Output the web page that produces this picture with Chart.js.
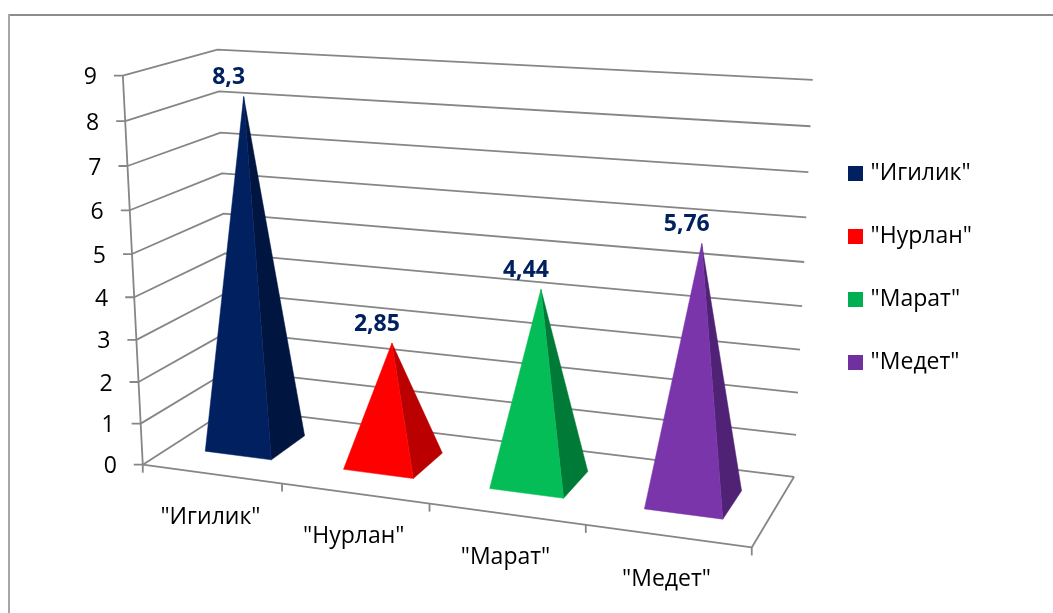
<!DOCTYPE html>
<html lang="ru">
<head>
<meta charset="utf-8">
<title>Пирамиды</title>
<style>
  html, body { margin: 0; padding: 0; background: #fff; overflow: hidden; }
  canvas { display: block; }
</style>
<script src="https://cdn.jsdelivr.net/npm/chart.js@4/dist/chart.umd.js"></script>
</head>
<body>
<canvas id="chart" width="1053" height="613"></canvas>
<script>
const categories = ['"Игилик"', '"Нурлан"', '"Марат"', '"Медет"'];
const values = [8.3, 2.85, 4.44, 5.76];
const frontColors = ['#002060', '#FF0000', '#05BD57', '#7A35AA'];
const sideColors = ['#001540', '#BA0000', '#007A37', '#4F2275'];
const legendColors = ['#002060', '#FF0000', '#00B050', '#7030A0'];
const valueMax = 9;

const FONT = '"Open Sans", "Noto Sans", sans-serif';
const GRID = '#868686';
const GRID_WIDTH = 1.8;
const LABEL_NAVY = '#002060';
const DEPTH_NEAR = 0.30, DEPTH_FAR = 0.71;

// Control points of the 3D box: [across, height, depth, screen x, screen y].
const boxControls = [
  [0, 0, 0, 142, 465], [1, 0, 0, 752, 547], [0, 1, 0, 123, 75.5],
  [0, 0, 1, 232, 408], [1, 0, 1, 794, 477], [0, 1, 1, 217, 50], [1, 1, 1, 813, 80],
  [0, 5 / 9, 0, 133, 254], [0, 5 / 9, 1, 223, 213], [1, 5 / 9, 1, 804, 262],
  [0.25, 0, 0, 282, 484], [0.5, 0, 0, 429, 503.5]
];

// Least-squares fit of a projective map from box coordinates to the screen.
function fitProjection(controls) {
  const rows = [], rhs = [];
  for (const [x, t, z, sx, sy] of controls) {
    const X = sx / 1000, Y = sy / 1000;
    rows.push([1, x, t, z, 0, 0, 0, 0, -X * x, -X * t, -X * z]); rhs.push(X);
    rows.push([0, 0, 0, 0, 1, x, t, z, -Y * x, -Y * t, -Y * z]); rhs.push(Y);
  }
  const n = 11;
  const m = Array.from({ length: n }, () => new Array(n + 1).fill(0));
  rows.forEach((r, k) => {
    for (let i = 0; i < n; i++) {
      for (let j = 0; j < n; j++) m[i][j] += r[i] * r[j];
      m[i][n] += r[i] * rhs[k];
    }
  });
  for (let c = 0; c < n; c++) {
    let piv = c;
    for (let r = c + 1; r < n; r++) if (Math.abs(m[r][c]) > Math.abs(m[piv][c])) piv = r;
    [m[c], m[piv]] = [m[piv], m[c]];
    for (let r = 0; r < n; r++) {
      if (r === c) continue;
      const f = m[r][c] / m[c][c];
      for (let j = c; j <= n; j++) m[r][j] -= f * m[c][j];
    }
  }
  const p = m.map((row, i) => row[n] / row[i]);
  return (x, t, z) => {
    const w = 1 + p[8] * x + p[9] * t + p[10] * z;
    return [
      1000 * (p[0] + p[1] * x + p[2] * t + p[3] * z) / w,
      1000 * (p[4] + p[5] * x + p[6] * t + p[7] * z) / w
    ];
  };
}
const project = fitProjection(boxControls);

function polyline(ctx, pts, color, width) {
  ctx.beginPath();
  pts.forEach((p, i) => (i ? ctx.lineTo(p[0], p[1]) : ctx.moveTo(p[0], p[1])));
  ctx.strokeStyle = color;
  ctx.lineWidth = width;
  ctx.stroke();
}

function face(ctx, pts, color) {
  ctx.beginPath();
  pts.forEach((p, i) => (i ? ctx.lineTo(p[0], p[1]) : ctx.moveTo(p[0], p[1])));
  ctx.closePath();
  ctx.fillStyle = color;
  ctx.fill();
  ctx.strokeStyle = color;
  ctx.lineWidth = 0.5;
  ctx.stroke();
}

// Draws the outer frame, the box walls and the axis text from the chart's scales.
const boxPlugin = {
  id: 'box',
  beforeDatasetsDraw(chart) {
    const { ctx, scales: { x: xs, y: ys } } = chart;
    const h = v => (ys.bottom - ys.getPixelForValue(v)) / ys.height;
    ctx.save();

    ctx.fillStyle = '#8c8c8c';
    ctx.fillRect(8, 14, 1045, 2);
    ctx.fillStyle = '#a6a6a6';
    ctx.fillRect(8, 14, 2, 599);

    ctx.lineJoin = 'round';
    ys.ticks.forEach(tick => {
      const t = h(tick.value);
      const a = project(0, t, 0), b = project(0, t, 1), c = project(1, t, 1);
      polyline(ctx, [[a[0] - 9, a[1]], a, b, c], GRID, GRID_WIDTH);
      ctx.fillStyle = '#000';
      ctx.font = '23px ' + FONT;
      ctx.textAlign = 'right';
      ctx.textBaseline = 'middle';
      ctx.fillText(String(tick.value), a[0] - 26, a[1] + 2);
    });

    const t0 = project(0, 0, 0);
    polyline(ctx, [project(0, 1, 0), t0], GRID, GRID_WIDTH);
    polyline(ctx, [t0, project(1, 0, 0), project(1, 0, 1)], GRID, GRID_WIDTH);

    // Category ticks sit on the band edges along the front of the floor.
    const n = categories.length;
    for (let i = 0; i <= n; i++) {
      const p = project(i / n, 0, 0);
      polyline(ctx, [p, [p[0], p[1] + 8]], GRID, GRID_WIDTH);
    }
    xs.ticks.forEach((tick, i) => {
      const u = (xs.getPixelForTick(i) - xs.left) / xs.width;
      const p = project(u, 0, 0);
      ctx.fillStyle = '#000';
      ctx.font = '23px ' + FONT;
      ctx.textAlign = 'center';
      ctx.textBaseline = 'middle';
      ctx.fillText(xs.getLabelForValue(tick.value), p[0] - 1, p[1] + 43);
    });
    ctx.restore();
  },
  // Each bar element's geometry becomes a square-based pyramid in the box.
  afterDatasetsDraw(chart) {
    const { ctx, chartArea: area } = chart;
    const bars = chart.getDatasetMeta(0).data;
    ctx.save();
    bars.forEach((bar, i) => {
      const { x, y, base, width } = bar.getProps(['x', 'y', 'base', 'width'], true);
      const u0 = (x - width / 2 - area.left) / (area.right - area.left);
      const u1 = (x + width / 2 - area.left) / (area.right - area.left);
      const uc = (x - area.left) / (area.right - area.left);
      const t = (base - y) / (area.bottom - area.top);
      const apex = project(uc, t, (DEPTH_NEAR + DEPTH_FAR) / 2);
      const fl = project(u0, 0, DEPTH_NEAR);
      const fr = project(u1, 0, DEPTH_NEAR);
      const br = project(u1, 0, DEPTH_FAR);
      face(ctx, [fr, br, apex], sideColors[i]);
      face(ctx, [fl, fr, apex], frontColors[i]);
      ctx.fillStyle = LABEL_NAVY;
      ctx.font = 'bold 23px ' + FONT;
      ctx.textAlign = 'center';
      ctx.textBaseline = 'middle';
      ctx.fillText(String(values[i]).replace('.', ','), apex[0] - 15, apex[1] - 19);
    });
    ctx.restore();
  }
};

// Legend swatch as a small bitmap, so the text can sit closer to it.
function swatch(color) {
  const c = document.createElement('canvas');
  c.width = c.height = 15;
  const g = c.getContext('2d');
  g.fillStyle = color;
  g.fillRect(0, 0, 15, 15);
  return c;
}

new Chart(document.getElementById('chart'), {
  type: 'bar',
  data: {
    labels: categories,
    datasets: [{
      data: values,
      backgroundColor: 'rgba(0,0,0,0)',
      borderWidth: 0,
      barPercentage: 0.485,
      categoryPercentage: 1
    }]
  },
  plugins: [boxPlugin],
  options: {
    responsive: false,
    animation: false,
    events: [],
    layout: { padding: { right: 71, bottom: 77 } },
    scales: {
      x: {
        offset: true,
        grid: { display: false },
        border: { display: false },
        ticks: { display: false }
      },
      y: {
        min: 0,
        max: valueMax,
        grid: { display: false },
        border: { display: false },
        ticks: { display: false, stepSize: 1 }
      }
    },
    plugins: {
      tooltip: { enabled: false },
      legend: {
        position: 'right',
        labels: {
          usePointStyle: true,
          pointStyleWidth: 7.5,
          boxHeight: 15,
          padding: 40,
          color: '#000',
          font: { family: FONT, size: 23 },
          generateLabels: () => categories.map((text, i) => ({
            text,
            pointStyle: swatch(legendColors[i]),
            fontColor: '#000',
            lineWidth: 0,
            hidden: false
          }))
        }
      }
    }
  }
});
</script>
</body>
</html>
